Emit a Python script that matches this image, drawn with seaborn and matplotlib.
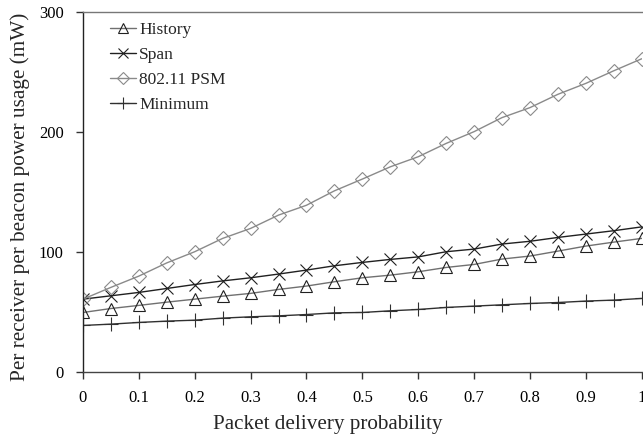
import matplotlib
matplotlib.use("Agg")
import matplotlib.pyplot as plt
import seaborn as sns
import pandas as pd
import numpy as np

prob = [0.0, 0.05, 0.1, 0.15, 0.2, 0.25, 0.3, 0.35, 0.4, 0.45, 0.5,
        0.55, 0.6, 0.65, 0.7, 0.75, 0.8, 0.85, 0.9, 0.95, 1.0]
history = [49.7, 53.0, 55.6, 58.3, 60.8, 63.3, 65.6, 68.9, 71.7, 75.3, 78.6,
           80.8, 83.6, 87.2, 89.7, 94.2, 96.7, 100.8, 105.0, 108.3, 111.4]
span = [60.8, 63.6, 66.4, 69.7, 73.0, 76.0, 78.6, 81.7, 85.0, 88.6, 91.4,
        93.9, 96.0, 100.3, 102.5, 106.7, 109.0, 112.2, 115.0, 117.8, 121.0]
psm = [60.8, 70.6, 80.0, 91.0, 100.3, 111.4, 119.7, 130.8, 139.0, 151.0, 160.8,
       171.0, 179.4, 190.5, 200.3, 212.0, 220.3, 231.4, 240.5, 251.0, 261.0]
minimum = [38.9, 40.0, 41.4, 42.5, 43.3, 45.0, 46.1, 46.9, 48.0, 49.4, 49.7,
           51.1, 52.2, 53.9, 55.0, 56.1, 57.2, 58.0, 59.2, 60.0, 61.4]
series_names = ["History", "Span", "802.11 PSM", "Minimum"]
x_ticks = [0, 0.1, 0.2, 0.3, 0.4, 0.5, 0.6, 0.7, 0.8, 0.9, 1]
x_tick_labels = ["0", "0.1", "0.2", "0.3", "0.4", "0.5", "0.6", "0.7", "0.8", "0.9", "1"]
y_ticks = [0, 100, 200, 300]

sns.set_theme(style="white")
plt.rcParams['font.family'] = ['Liberation Serif', 'DejaVu Serif']

fig = plt.figure(figsize=(6.43, 4.42), dpi=100)
ax = fig.add_axes([0.129, 0.158, 0.869, 0.815])

styles = {
    "History": dict(marker="^", color="#707070", mec="#202020", ms=9),
    "Span": dict(marker="x", color="#202020", mec="#202020", ms=8),
    "802.11 PSM": dict(marker="D", color="#8a8a8a", mec="#8a8a8a", ms=7),
    "Minimum": dict(marker="+", color="#303030", mec="#303030", ms=10),
}
for name, vals in zip(series_names, [history, span, psm, minimum]):
    df = pd.DataFrame({"p": prob, "v": vals})
    st = styles[name]
    sns.lineplot(data=df, x="p", y="v", ax=ax, color=st["color"], lw=1.0,
                 marker=st["marker"], markersize=st["ms"], markerfacecolor="none",
                 markeredgecolor=st["mec"], markeredgewidth=0.8, label=name)

ax.set_xlim(0, 1)
ax.set_ylim(0, 300)
ax.set_xticks(x_ticks)
ax.set_xticklabels(x_tick_labels)
ax.set_yticks(y_ticks)
ax.tick_params(axis="both", direction="out", length=5, width=1, color="#333333",
               labelsize=12, labelcolor="black", bottom=True, left=True)
ax.tick_params(axis="y", pad=9)
ax.tick_params(axis="x", pad=8)
ax.spines["left"].set_color("#222222")
ax.spines["bottom"].set_color("#444444")
ax.spines["top"].set_color("#777777")
for s in ["left", "bottom", "top"]:
    ax.spines[s].set_linewidth(1)
ax.spines["right"].set_visible(False)
ax.set_xlabel("Packet delivery probability", fontsize=15.2)
ax.xaxis.set_label_coords(0.438, -0.118)
ax.set_ylabel("Per receiver per beacon power usage (mW)", fontsize=15.3)
ax.yaxis.set_label_coords(-0.094, 0.487)

leg = ax.legend(loc="upper left", frameon=False, fontsize=12.5, handlelength=1.5,
                handletextpad=0.2, labelspacing=0.5, markerscale=0.85,
                bbox_to_anchor=(0.02, 1.015))

fig.savefig("out.png", dpi=100)
